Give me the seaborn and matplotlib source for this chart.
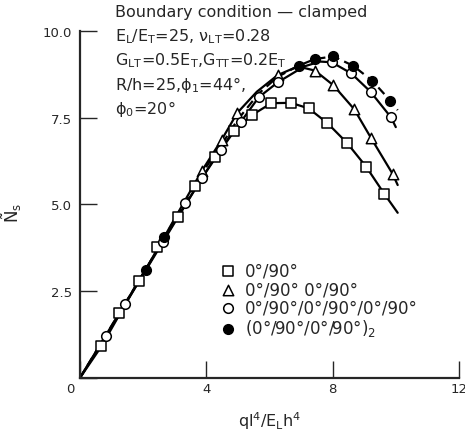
import matplotlib
matplotlib.use("Agg")
import matplotlib.pyplot as plt
import seaborn as sns

# Marker values
sq_x = [0.68, 1.24, 1.86, 2.43, 3.09, 3.64, 4.28, 4.87, 5.45, 6.06, 6.68, 7.24, 7.83, 8.46, 9.06, 9.64]
sq_y = [0.91, 1.87, 2.80, 3.76, 4.64, 5.54, 6.36, 7.13, 7.58, 7.92, 7.93, 7.77, 7.35, 6.77, 6.09, 5.30]
tri_x = [3.86, 4.49, 4.98, 6.26, 7.44, 8.02, 8.68, 9.22, 9.90]
tri_y = [5.97, 6.87, 7.64, 8.73, 8.86, 8.44, 7.75, 6.91, 5.88]
circ_x = [0.82, 1.42, 2.62, 3.32, 3.86, 4.46, 5.10, 5.66, 6.26, 7.97, 8.59, 9.20, 9.85]
circ_y = [1.20, 2.13, 3.91, 5.03, 5.76, 6.57, 7.39, 8.09, 8.52, 9.10, 8.78, 8.25, 7.51]
fill_x = [2.08, 2.67, 6.92, 7.43, 8.02, 8.65, 9.25, 9.83]
fill_y = [3.12, 4.05, 9.00, 9.19, 9.27, 9.00, 8.57, 7.99]

# Curve points
sq_lx = [0, 0.68, 1.86, 3.09, 4.28, 4.87, 5.45, 6.06, 6.68, 7.24, 7.83, 8.46, 9.06, 9.64, 10.06]
sq_ly = [0, 0.91, 2.80, 4.64, 6.36, 7.13, 7.58, 7.92, 7.93, 7.77, 7.35, 6.77, 6.09, 5.30, 4.76]
tri_lx = [0, 2.08, 3.86, 4.49, 4.98, 5.60, 6.26, 6.90, 7.44, 8.02, 8.68, 9.22, 9.90, 10.06]
tri_ly = [0, 3.12, 5.97, 6.87, 7.64, 8.25, 8.73, 8.98, 8.86, 8.44, 7.75, 6.91, 5.88, 5.56]
circ_lx = [0, 0.82, 2.62, 3.86, 4.46, 5.10, 5.66, 6.26, 7.10, 7.60, 7.97, 8.59, 9.20, 9.85, 10.0]
circ_ly = [0, 1.20, 3.91, 5.76, 6.57, 7.39, 8.09, 8.52, 8.98, 9.12, 9.10, 8.78, 8.25, 7.51, 7.23]
fill_lx = [0, 2.08, 2.67, 3.86, 4.50, 5.00, 5.66, 6.26, 6.92, 7.43, 8.02, 8.65, 9.25, 9.83, 10.06]
fill_ly = [0, 3.12, 4.05, 5.90, 6.75, 7.45, 8.20, 8.68, 9.00, 9.19, 9.27, 9.00, 8.57, 7.99, 7.72]

labels = ["0°/90°", "0°/90° 0°/90°", "0°/90°/0°/90°/0°/90°", "(0°/90°/0°/90°)$_2$"]

sns.set_style("ticks")
plt.rcParams['font.family'] = ['DejaVu Sans']
plt.rcParams['mathtext.default'] = 'regular'

fig = plt.figure(figsize=(4.65, 4.39), dpi=100)
ax = fig.add_axes([0.172, 0.137, 0.815, 0.790])

lw = 1.6
sns.lineplot(x=sq_lx, y=sq_ly, sort=False, estimator=None, color='black', lw=lw, ax=ax)
sns.lineplot(x=tri_lx, y=tri_ly, sort=False, estimator=None, color='black', lw=lw, ax=ax)
sns.lineplot(x=circ_lx, y=circ_ly, sort=False, estimator=None, color='black', lw=lw, ax=ax)
sns.lineplot(x=fill_lx, y=fill_ly, sort=False, estimator=None, color='black', lw=lw, ax=ax,
             linestyle=(0, (4, 2.5)))

ms = 48
sns.scatterplot(x=sq_x, y=sq_y, marker='s', s=ms, facecolor='white', edgecolor='black',
                linewidth=1.1, label=labels[0], ax=ax, zorder=3)
sns.scatterplot(x=tri_x, y=tri_y, marker='^', s=ms + 8, facecolor='white', edgecolor='black',
                linewidth=1.1, label=labels[1], ax=ax, zorder=3)
sns.scatterplot(x=circ_x, y=circ_y, marker='o', s=ms, facecolor='white', edgecolor='black',
                linewidth=1.1, label=labels[2], ax=ax, zorder=3)
sns.scatterplot(x=fill_x, y=fill_y, marker='o', s=ms, facecolor='black', edgecolor='black',
                linewidth=1.1, label=labels[3], ax=ax, zorder=4)

ax.set_xlim(0, 12)
ax.set_ylim(0, 10)
ax.set_xticks([0, 4, 8, 12])
ax.set_xticklabels(['', '4', '8', '12'])
ax.set_yticks([0, 2.5, 5.0, 7.5, 10.0])
ax.set_yticklabels(['', '2.5', '5.0', '7.5', '10.0'])
ax.tick_params(direction='in', length=12, width=1.0, labelsize=9.5, pad=6)
ax.tick_params(axis='x', pad=3)
sns.despine(ax=ax)
for s in ['left', 'bottom']:
    ax.spines[s].set_linewidth(1.6)

ax.text(-0.026, -0.012, '0', transform=ax.transAxes, ha='center', va='top', fontsize=9.5)

ax.set_xlabel('$ql^4/E_Lh^4$', fontsize=11.5, labelpad=10)
ax.set_ylabel(r'$\tilde{N}_s$', fontsize=12)
ax.yaxis.set_label_coords(-0.148, 0.478)

note = ["Boundary condition — clamped",
        r"$E_L/E_T$=25, $\nu_{LT}$=0.28",
        r"$G_{LT}$=0.5$E_T$,$G_{TT}$=0.2$E_T$",
        r"R/h=25,$\phi_1$=44°,",
        r"$\phi_0$=20°"]
for i, line in enumerate(note):
    ax.text(0.092, 1.055 - i * 0.069, line, transform=ax.transAxes, fontsize=11.5,
            ha='left', va='center')

ax.legend(loc='upper left', bbox_to_anchor=(0.352, 0.36), frameon=False, fontsize=12,
          handlelength=0.8, handletextpad=0.6, labelspacing=0.04, borderpad=0)

fig.savefig('out.png', dpi=100)
